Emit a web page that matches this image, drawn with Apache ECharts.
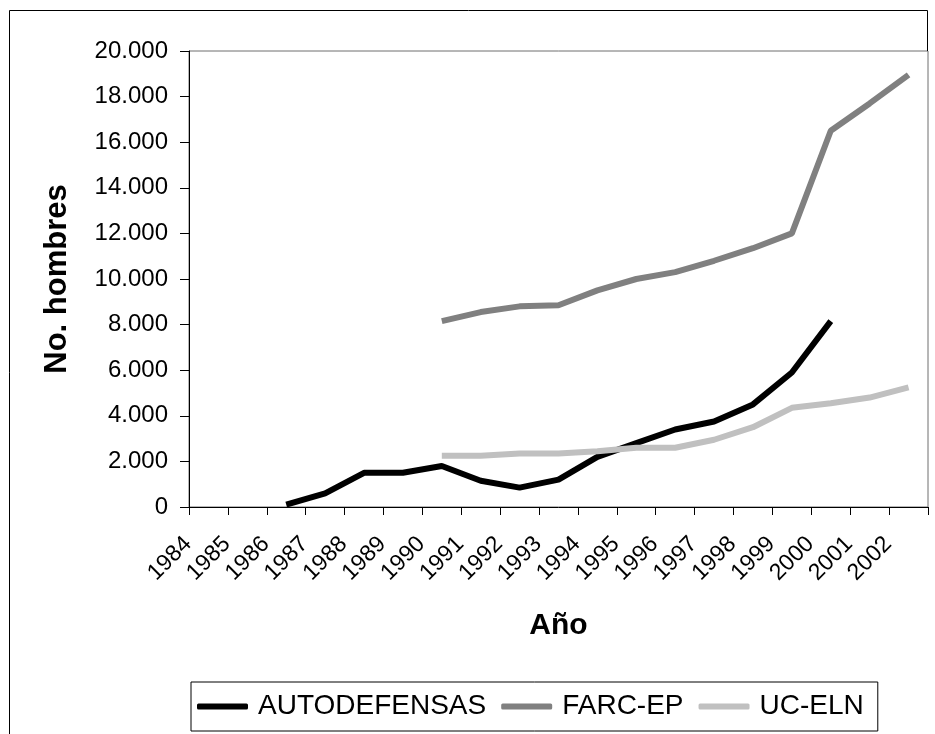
<!DOCTYPE html>
<html>
<head>
<meta charset="utf-8">
<script src="https://cdn.jsdelivr.net/npm/echarts@6/dist/echarts.min.js"></script>
<style>
html,body{margin:0;padding:0;background:#fff;}
#chart{width:935px;height:734px;}
</style>
</head>
<body>
<div id="chart"></div>
<script>
var years = ['1984','1985','1986','1987','1988','1989','1990','1991','1992','1993','1994','1995','1996','1997','1998','1999','2000','2001','2002'];
var autodefensas = [null, null, 100, 600, 1500, 1500, 1800, 1150, 850, 1200, 2200, 2800, 3400, 3750, 4500, 5900, 8150, null, null];
var farcEp = [null, null, null, null, null, null, 8150, 8550, 8800, 8850, 9500, 10000, 10300, 10800, 11350, 12000, 16500, 17700, 18950];
var ucEln = [null, null, null, null, null, null, 2250, 2250, 2350, 2350, 2450, 2600, 2600, 2950, 3500, 4350, 4550, 4800, 5250];
var seriesNames = ['AUTODEFENSAS', 'FARC-EP', 'UC-ELN'];
var yTicks = { min: 0, max: 20000, interval: 2000 };

var FONT = '"Liberation Sans", Arial, sans-serif';
var chart = echarts.init(document.getElementById('chart'), null, {renderer: 'canvas'});

function fmt(v) {
  return String(v).replace(/\B(?=(\d{3})+(?!\d))/g, '.');
}

var option = {
  backgroundColor: '#ffffff',
  animation: false,
  grid: {
    left: 189, top: 51, width: 739, height: 456,
    show: true, borderColor: '#6e6e6e', borderWidth: 1, backgroundColor: 'transparent'
  },
  graphic: [
    { type: 'polyline', silent: true, shape: { points: [[9.5, 734], [9.5, 10.5], [927.5, 10.5], [927.5, 51]] },
      style: { stroke: '#000', lineWidth: 1, fill: null } }
  ],
  legend: {
    data: seriesNames,
    left: 191, top: 682,
    orient: 'horizontal',
    borderColor: '#000', borderWidth: 1,
    padding: [9, 14, 9, 6],
    itemGap: 15,
    itemWidth: 51, itemHeight: 6,
    icon: 'roundRect',
    textStyle: { fontFamily: FONT, fontSize: 28, color: '#000', padding: [0, 0, 0, 5], lineHeight: 31 }
  },
  xAxis: {
    type: 'category',
    data: years,
    boundaryGap: true,
    name: 'Año',
    nameLocation: 'middle',
    nameGap: 104,
    nameTextStyle: { fontFamily: FONT, fontSize: 30, fontWeight: 'bold', color: '#000' },
    axisLine: { show: true, lineStyle: { color: '#000', width: 1 } },
    axisTick: { show: true, length: 8, alignWithLabel: false, lineStyle: { color: '#000' } },
    axisLabel: { rotate: 45, margin: 13, padding: [0, 29, 0, 0], fontFamily: FONT, fontSize: 23, color: '#000', interval: 0 },
    splitLine: { show: false }
  },
  yAxis: {
    type: 'value',
    min: yTicks.min, max: yTicks.max, interval: yTicks.interval,
    name: 'No. hombres',
    nameLocation: 'middle',
    nameGap: 116,
    nameTextStyle: { fontFamily: FONT, fontSize: 31, fontWeight: 'bold', color: '#000' },
    axisLine: { show: true, lineStyle: { color: '#000', width: 1 } },
    axisTick: { show: true, length: 9, inside: false, lineStyle: { color: '#000' } },
    axisLabel: { margin: 21, fontFamily: FONT, fontSize: 24, color: '#000', formatter: fmt },
    splitLine: { show: false }
  },
  series: [
    { name: seriesNames[0], type: 'line', data: autodefensas, symbol: 'none', connectNulls: false,
      itemStyle: { color: '#000000' }, lineStyle: { color: '#000000', width: 6 } },
    { name: seriesNames[1], type: 'line', data: farcEp, symbol: 'none', connectNulls: false,
      itemStyle: { color: '#808080' }, lineStyle: { color: '#808080', width: 6 } },
    { name: seriesNames[2], type: 'line', data: ucEln, symbol: 'none', connectNulls: false,
      itemStyle: { color: '#c0c0c0' }, lineStyle: { color: '#c0c0c0', width: 6 } }
  ]
};
chart.setOption(option);
</script>
</body>
</html>
